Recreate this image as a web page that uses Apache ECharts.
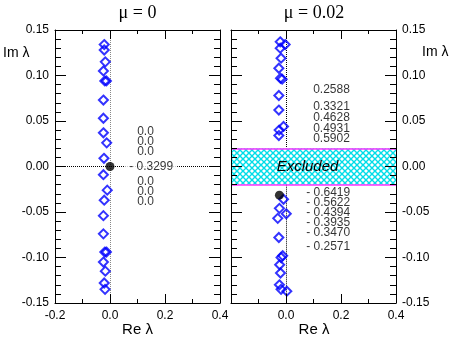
<!DOCTYPE html>
<html>
<head>
<meta charset="utf-8">
<script src="https://cdn.jsdelivr.net/npm/echarts@6/dist/echarts.min.js"></script>
<style>
  html, body { margin: 0; padding: 0; background: #fff; }
  #chart { width: 452px; height: 339px; }
</style>
</head>
<body>
<div id="chart"></div>
<script>
// eigenvalues [Re, Im], mu = 0
var eigMu0 = [
  [-0.021, 0.134], [-0.021, 0.128], [-0.017, 0.115], [-0.024, 0.105],
  [-0.019, 0.094], [-0.013, 0.094], [-0.024, 0.073], [-0.024, 0.053],
  [-0.024, 0.037], [-0.012, 0.026], [-0.022, 0.009],
  [-0.024, -0.009], [-0.010, -0.026], [-0.021, -0.037], [-0.024, -0.054],
  [-0.024, -0.074], [-0.019, -0.094], [-0.013, -0.094], [-0.024, -0.105],
  [-0.017, -0.115], [-0.021, -0.128], [-0.018, -0.135]
];
var originMu0 = [[0, 0]];

// eigenvalues [Re, Im], mu = 0.02
var eigMu002 = [
  [-0.021, 0.137], [-0.003, 0.134], [-0.021, 0.130], [-0.018, 0.119],
  [-0.026, 0.108], [-0.020, 0.097], [-0.014, 0.096], [-0.026, 0.078],
  [-0.026, 0.062], [-0.009, 0.044], [-0.025, 0.040], [-0.026, 0.034],
  [-0.009, -0.036], [-0.024, -0.046], [0.001, -0.052], [-0.030, -0.057],
  [-0.026, -0.078], [-0.012, -0.098], [-0.018, -0.100], [-0.023, -0.108],
  [-0.020, -0.117], [-0.024, -0.130], [-0.018, -0.135], [0.003, -0.137]
];
var originMu002 = [[-0.024, -0.0315]];

// excluded band in Im lambda
var excluded = [-0.02, 0.02];

// annotations next to the spectrum
var notesX = 0.097;
var notesMu0 = ['0.0', '0.0', '0.0', '- 0.3299', '0.0', '0.0', '0.0'];
var notesMu0Y = [0.038, 0.0275, 0.0165, 0, -0.0165, -0.0275, -0.039];
var notesMu002 = ['0.2588', '0.3321', '0.4628', '0.4931', '0.5902',
  '- 0.6419', '- 0.5622', '- 0.4394', '- 0.3935', '- 0.3470', '- 0.2571'];
var notesMu002Y = [0.0842, 0.0659, 0.0531, 0.0421, 0.0311,
  -0.0286, -0.0396, -0.0505, -0.0615, -0.0725, -0.0884];

var xRange = { min: -0.2, max: 0.4, interval: 0.2 };
var yRange = { min: -0.15, max: 0.15, interval: 0.05 };

var SANS = 'Liberation Sans, Arial, sans-serif';
var SERIF = 'Liberation Serif, Times New Roman, serif';

var chart = echarts.init(document.getElementById('chart'));

function hatch() {
  var c = document.createElement('canvas');
  c.width = 6; c.height = 6;
  var g = c.getContext('2d');
  g.fillStyle = '#ffffff';
  g.fillRect(0, 0, 6, 6);
  g.strokeStyle = '#00dde8';
  g.lineWidth = 1.4;
  g.beginPath();
  g.moveTo(-1, -1); g.lineTo(7, 7);
  g.moveTo(7, -1); g.lineTo(-1, 7);
  g.stroke();
  return c;
}

function xAxis(grid, pos, labels, hideMin) {
  return {
    type: 'value', gridIndex: grid, position: pos, z: 10,
    min: xRange.min, max: xRange.max, interval: xRange.interval,
    axisLine: { show: true, onZero: false, lineStyle: { color: '#000', width: 1 } },
    axisTick: { show: true, inside: true, length: 9, lineStyle: { color: '#000' } },
    minorTick: { show: true, splitNumber: 2, length: 4, lineStyle: { color: '#000' } },
    splitLine: { show: false },
    axisLabel: {
      show: labels, margin: 7, color: '#000', fontSize: 12, fontFamily: SANS,
      showMinLabel: !hideMin,
      formatter: function (v) { return v.toFixed(1); }
    }
  };
}

function yAxis(grid, pos, labels) {
  return {
    type: 'value', gridIndex: grid, position: pos, z: 10,
    min: yRange.min, max: yRange.max, interval: yRange.interval,
    axisLine: { show: true, onZero: false, lineStyle: { color: '#000', width: 1 } },
    axisTick: { show: true, inside: true, length: 11, lineStyle: { color: '#000' } },
    minorTick: { show: true, splitNumber: 5, length: 6, lineStyle: { color: '#000' } },
    splitLine: { show: false },
    axisLabel: {
      show: labels, margin: 6, color: '#000', fontSize: 12, fontFamily: SANS,
      formatter: function (v) { return v.toFixed(2); }
    }
  };
}

function notes(texts, ys, xi, yi) {
  return {
    type: 'scatter', xAxisIndex: xi, yAxisIndex: yi, z: 6, silent: true,
    symbolSize: 1, itemStyle: { color: 'transparent' },
    data: texts.map(function (t, i) {
      var dash = t.charAt(0) === '-';
      var d = { value: [notesX, ys[i]], name: t };
      if (dash && ys[i] === 0) {
        d.label = { backgroundColor: '#fff', padding: [0, 4], offset: [-12, 0] };
      } else if (dash) {
        d.label = { offset: [-7, 0] };
      }
      return d;
    }),
    label: {
      show: true, position: 'right', distance: 0,
      color: '#000', fontSize: 12, fontFamily: SANS,
      formatter: function (p) { return p.name; }
    }
  };
}

function caption(text, x, y, font, align) {
  return {
    type: 'text', x: x, y: y, silent: true,
    style: { text: text, fill: '#000', font: font, align: align, verticalAlign: 'middle' }
  };
}

var diamond = {
  type: 'scatter', symbol: 'diamond', symbolSize: 9, z: 4,
  itemStyle: { color: 'transparent', borderColor: '#0000ff', borderWidth: 2 }
};

var option = {
  animation: false,
  backgroundColor: '#fff',
  grid: [
    { left: 55, top: 30, width: 165, height: 273, outerBoundsMode: 'none', containLabel: false },
    { left: 231, top: 30, width: 165, height: 273, outerBoundsMode: 'none', containLabel: false }
  ],
  xAxis: [xAxis(0, 'bottom', true, false), xAxis(0, 'top', false, false),
          xAxis(1, 'bottom', true, true), xAxis(1, 'top', false, false)],
  yAxis: [yAxis(0, 'left', true), yAxis(0, 'right', false),
          yAxis(1, 'right', true), yAxis(1, 'left', false)],
  graphic: [
    caption('μ = 0', 137.5, 13, '18px ' + SERIF, 'center'),
    caption('μ = 0.02', 314, 13, '18px ' + SERIF, 'center'),
    caption('Im λ', 3, 53, '14px ' + SANS, 'left'),
    caption('Im λ', 422, 52, '14px ' + SANS, 'left'),
    caption('Re λ', 137.5, 330, '15px ' + SANS, 'center'),
    caption('Re λ', 314, 330, '15px ' + SANS, 'center')
  ],
  series: [
    Object.assign({}, diamond, {
      xAxisIndex: 0, yAxisIndex: 0, data: eigMu0,
      markLine: {
        silent: true, symbol: 'none', label: { show: false }, z: 1,
        data: [
          { xAxis: 0, lineStyle: { color: '#888', type: 'dotted', width: 1 } },
          { yAxis: 0, lineStyle: { color: '#000', type: 'dotted', width: 1 } }
        ]
      }
    }),
    {
      type: 'scatter', xAxisIndex: 0, yAxisIndex: 0, z: 7, symbolSize: 9,
      itemStyle: { color: '#000' }, data: originMu0
    },
    notes(notesMu0, notesMu0Y, 0, 0),
    Object.assign({}, diamond, {
      xAxisIndex: 2, yAxisIndex: 2, data: eigMu002,
      markArea: {
        silent: true, z: 1,
        itemStyle: { color: { image: hatch(), repeat: 'repeat' }, borderWidth: 0 },
        label: {
          show: true, position: 'inside', offset: [-6, 0], formatter: 'Excluded',
          color: '#000', fontSize: 15, fontStyle: 'italic', fontFamily: SANS
        },
        data: [[{ yAxis: excluded[0] }, { yAxis: excluded[1] }]]
      },
      markLine: {
        silent: true, symbol: 'none', label: { show: false }, z: 2,
        lineStyle: { color: '#000', type: 'dotted', width: 1 },
        data: [
          [{ coord: [0, yRange.max] }, { coord: [0, excluded[1]] }],
          [{ coord: [0, excluded[0]] }, { coord: [0, yRange.min] }],
          { yAxis: excluded[1], lineStyle: { color: '#ff33ff', type: 'solid', width: 1.5 } },
          { yAxis: excluded[0], lineStyle: { color: '#ff33ff', type: 'solid', width: 1.5 } }
        ]
      }
    }),
    {
      type: 'scatter', xAxisIndex: 2, yAxisIndex: 2, z: 7, symbolSize: 9,
      itemStyle: { color: '#000' }, data: originMu002
    },
    notes(notesMu002, notesMu002Y, 2, 2)
  ]
};

chart.setOption(option);
window.addEventListener('resize', function () {
  chart.resize();
});
</script>
</body>
</html>
